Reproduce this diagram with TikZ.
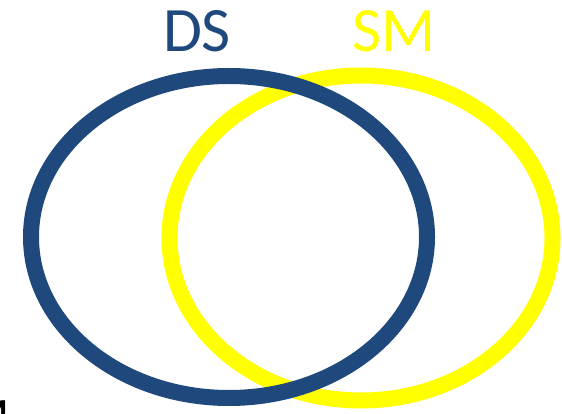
\documentclass[tikz,border=0pt]{standalone}
\usepackage{fontspec}
\setmainfont{Carlito}
\usepackage{xcolor}
\usetikzlibrary{positioning}
\definecolor{dsblue}{HTML}{1F497D}
\definecolor{smyellow}{HTML}{FFFF00}

\begin{document}
\begin{tikzpicture}[
  every node/.style={inner sep=0pt},
  ring/.style={line width=0.32cm},
  setlabel/.style={anchor=base, font=\fontsize{36}{40}\selectfont}
]
  \clip (0,0) rectangle (11.24,8.26);
  \useasboundingbox (0,0) rectangle (11.24,8.26);

  % the two sets, yellow first so blue lies on top
  \coordinate (smc) at (7.22,3.50);
  \coordinate (dsc) at (4.58,3.52);
  \draw[ring, smyellow] (smc) ellipse [x radius=3.83cm, y radius=3.25cm];
  \draw[ring, dsblue]   (dsc) ellipse [x radius=3.96cm, y radius=3.22cm];

  \node[setlabel, text=dsblue]   (ds) at (3.94,7.22) {DS};
  \node[setlabel, text=smyellow] (sm) at (7.88,7.22) {SM};

  % cut off letter in the corner
  \node[anchor=north east, font=\fontsize{20}{24}\selectfont\bfseries] (cut) at (0.16,0.26) {M};
\end{tikzpicture}
\end{document}
